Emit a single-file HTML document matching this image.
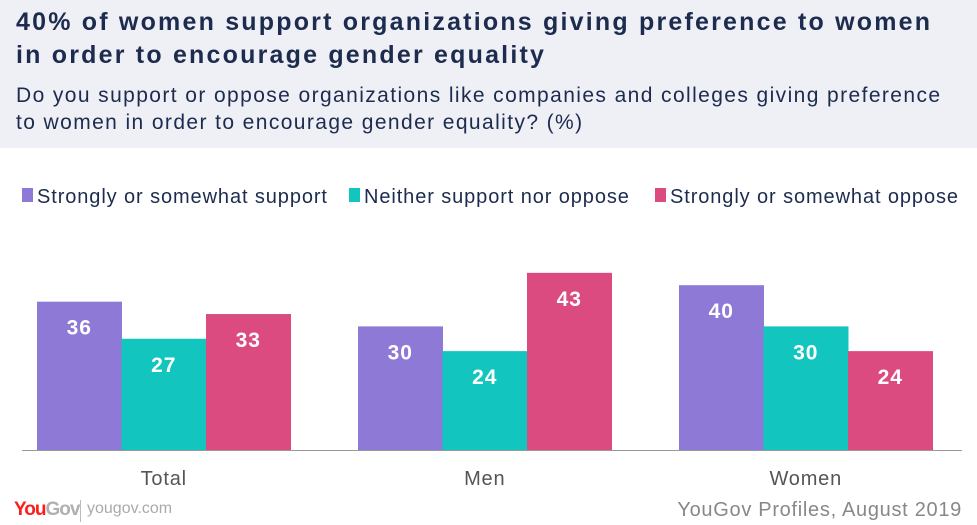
<!DOCTYPE html>
<html><head><meta charset="utf-8"><style>
body{margin:0;width:977px;height:525px;background:#fff;font-family:"Liberation Sans",sans-serif;overflow:hidden;position:relative}
.hdr{position:absolute;left:0;top:0;width:977px;height:148px;background:#eff0f6}
.t{position:absolute;left:16px;color:#1c2b4e}
</style></head><body>
<div class="hdr"></div>
<div class="t" style="top:6px;font-size:25px;font-weight:bold;line-height:33px;width:950px;letter-spacing:2.2px;white-space:nowrap">40% of women support organizations giving preference to women<br>in order to encourage gender equality</div>
<div class="t" style="top:82px;font-size:21px;line-height:27px;width:945px;letter-spacing:1.4px">Do you support or oppose organizations like companies and colleges giving preference to women in order to encourage gender equality? (%)</div>
<svg id="c" width="977" height="525" style="position:absolute;left:0;top:0"></svg>
<script>
const categories=["Total","Men","Women"];
const seriesNames=["Strongly or somewhat support","Neither support nor oppose","Strongly or somewhat oppose"];
const support=[36,30,40];
const neither=[27,24,30];
const oppose=[33,43,24];
const colors=["#8e79d7","#12c5bf","#dc4b80"];
const series=[support,neither,oppose];
const svg=document.getElementById('c');const NS="http://www.w3.org/2000/svg";
const base=450,scale=4.12,groupX=[37,358,679],bw=84.5;
function y(v){return base-v*scale}
function mk(t,a,txt){const e=document.createElementNS(NS,t);for(const k in a)e.setAttribute(k,a[k]);if(txt!==undefined)e.textContent=txt;svg.appendChild(e);return e}
const lx=[22,349,655];
seriesNames.forEach((n,i)=>{
 const r=mk('rect',{x:lx[i],y:188,width:11,height:14,fill:colors[i]});
 
 
 const t=mk('text',{x:lx[i]+15,y:203,'font-size':20,fill:'#1c2b4e','letter-spacing':'0.9px'},n);
 
 
});
categories.forEach((c,g)=>{
 series.forEach((s,i)=>{
  const x=groupX[g]+i*bw;
  const r=mk('rect',{x:x,y:y(s[g]),width:bw+0.5,height:s[g]*scale,fill:colors[i]});
  
  
  const t=mk('text',{x:x+bw/2,y:y(s[g])+33,'font-size':21,'font-weight':'bold',fill:'#fff','text-anchor':'middle','letter-spacing':'1px'},s[g]);
  
  
 });
 const t=mk('text',{x:groupX[g]+bw*1.5,y:485,'font-size':20,fill:'#555','text-anchor':'middle','letter-spacing':'0.8px'},c);
 
 
});
const ax=mk('line',{x1:22,x2:962,y1:450.5,y2:450.5,stroke:'#999','stroke-width':1});


</script>
<div style="position:absolute;left:14px;top:499px;font-size:19px;font-weight:bold;letter-spacing:-1px"><span style="color:#ff1c1c">You</span><span style="color:#b0b0b0">Gov</span></div>
<div style="position:absolute;left:80px;top:500px;width:1px;height:22px;background:#bbb"></div>
<div style="position:absolute;left:87px;top:500px;font-size:16px;color:#aaa">yougov.com</div>
<div style="position:absolute;right:15px;top:499px;font-size:20px;color:#888;letter-spacing:0.7px">YouGov Profiles, August 2019</div>
</body></html>
